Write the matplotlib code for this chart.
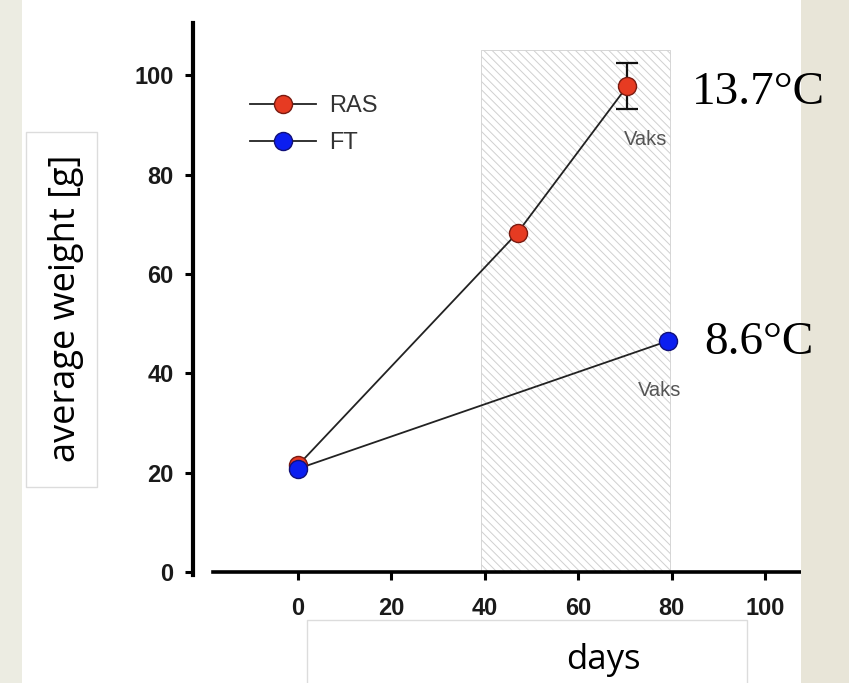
import numpy as np
import matplotlib
matplotlib.use('Agg')
import matplotlib.pyplot as plt
from matplotlib.lines import Line2D
from matplotlib.patches import Rectangle

# data
ras_days = [0, 47, 70.5]
ras_weight = [21.5, 68.3, 97.8]
ras_err = [0, 0, 4.7]
ft_days = [0, 79.2]
ft_weight = [20.8, 46.5]
vax_span = [39.2, 79.7]     # shaded vaccination period (days)
vax_top = 105
vaks_labels = [(74.5, 87, 'Vaks'), (77.5, 36.5, 'Vaks')]
temp_labels = [(13.7, 'RAS'), (8.6, 'FT')]
x_ticks = [0, 20, 40, 60, 80, 100]
y_ticks = [0, 20, 40, 60, 80, 100]

plt.rcParams['hatch.linewidth'] = 0.7
plt.rcParams['hatch.color'] = '#d0d0d0'

W, H = 849, 683
fig = plt.figure(figsize=(W / 100, H / 100), dpi=100)
fig.patch.set_facecolor('white')

# slide background strips
fig.patches.append(Rectangle((0, 0), 22 / W, 1, transform=fig.transFigure,
                             facecolor='#ecece2', edgecolor='none', zorder=0))
fig.patches.append(Rectangle((801 / W, 0), 48 / W, 1, transform=fig.transFigure,
                             facecolor='#e8e5d8', edgecolor='none', zorder=0))
# label boxes
fig.patches.append(Rectangle((26 / W, 1 - 487 / H), 71 / W, 355 / H, transform=fig.transFigure,
                             facecolor='white', edgecolor='#dcdcdc', lw=1, zorder=1))
fig.patches.append(Rectangle((307 / W, -0.01), 440 / W, (683 - 620) / H + 0.01,
                             transform=fig.transFigure,
                             facecolor='white', edgecolor='#dcdcdc', lw=1, zorder=1))

ax = fig.add_axes([193 / W, (H - 582) / H, 608 / W, (582 - 23) / H])
ax.set_facecolor('none')
ax.set_xlim(-22.5, 107.7)
ax.set_ylim(-2, 110.5)

ax.fill_between(vax_span, 0, vax_top, facecolor='white', edgecolor='#d0d0d0',
                hatch='\\' * 4, linewidth=0.6, zorder=1)

ax.plot(ras_days, ras_weight, color='#222222', lw=1.3, zorder=3)
ax.plot(ft_days, ft_weight, color='#222222', lw=1.3, zorder=3)

err = np.array(ras_err)
m = err > 0
ax.errorbar(np.array(ras_days)[m], np.array(ras_weight)[m], yerr=err[m], fmt='none',
            ecolor='#111111', elinewidth=1.6, capsize=8, capthick=1.6, zorder=4)

ax.plot(ras_days, ras_weight, 'o', ms=13, mfc='#e63b22', mec='#7a1a10', mew=1, zorder=5)
ax.plot(ft_days, ft_weight, 'o', ms=13, mfc='#0b1ef0', mec='#10107a', mew=1, zorder=6)

for x, y, s in vaks_labels:
    ax.text(x, y, s, ha='center', va='center', fontsize=14.5, color='#555555',
            family='Liberation Sans', zorder=6)

# temperature notes next to the end points
temp_pos = {'RAS': (692, 104), 'FT': (704, 354)}
for t, grp in temp_labels:
    px, py = temp_pos[grp]
    fig.text(px / W, 1 - py / H, f'{t}°C', fontsize=34, ha='left', va='baseline',
             family=['Liberation Serif', 'DejaVu Serif'], color='black', zorder=10)

# spines
for s in ['top', 'right']:
    ax.spines[s].set_visible(False)
ax.spines['left'].set_linewidth(3)
ax.spines['left'].set_bounds(-0.6, 110.5)
ax.spines['bottom'].set_position(('data', 0))
ax.spines['bottom'].set_linewidth(2.6)
ax.spines['bottom'].set_bounds(-18.3, 107.7)

ax.set_xticks(x_ticks)
ax.set_yticks(y_ticks)
ax.tick_params(axis='y', length=6, width=2.2, pad=8, labelsize=17)
ax.tick_params(axis='x', length=6, width=2.2, pad=12, labelsize=17)
for lab in ax.get_xticklabels() + ax.get_yticklabels():
    lab.set_fontweight('bold')
    lab.set_family('Liberation Sans')
    lab.set_color('#1a1a1a')

handles = [Line2D([], [], color='#222222', lw=1.3, marker='o', ms=13,
                  mfc='#e63b22', mec='#7a1a10'),
           Line2D([], [], color='#222222', lw=1.3, marker='o', ms=13,
                  mfc='#0b1ef0', mec='#10107a')]
leg = ax.legend(handles, ['RAS', 'FT'], loc='upper left',
                bbox_to_anchor=(250 / W, 1 - 95 / H), bbox_transform=fig.transFigure,
                frameon=False, borderpad=0, borderaxespad=0, handlelength=2.8,
                handletextpad=0.55, labelspacing=0.65,
                prop={'family': 'Liberation Sans', 'size': 17})
for t in leg.get_texts():
    t.set_color('#333333')

fig.text(66 / W, 1 - 308 / H, 'average weight [g]', rotation=90, ha='center', va='center',
         fontsize=26, family='Open Sans', color='black', zorder=5)
fig.text(603 / W, 1 - 660 / H, 'days', ha='center', va='center',
         fontsize=25, family='Open Sans', color='black', zorder=5)

fig.savefig('out.png', dpi=100)
